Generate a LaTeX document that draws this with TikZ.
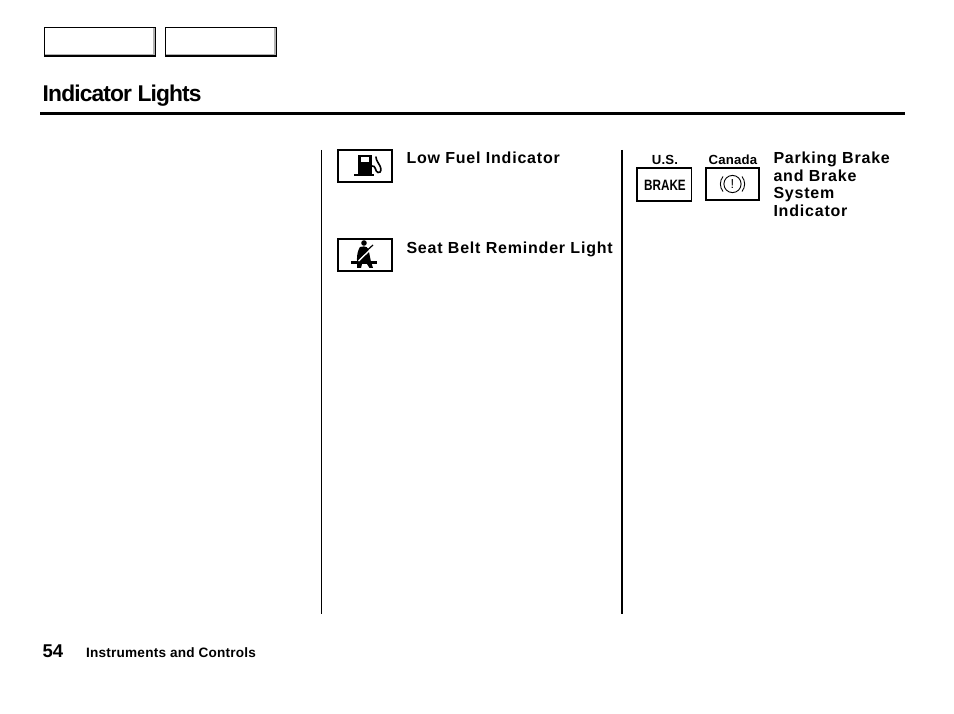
\documentclass[tikz,border=0pt]{standalone}
\usepackage{fontspec}
\setmainfont{Liberation Sans}
\newfontfamily\lblfont[LetterSpace=5]{Liberation Sans Bold}
\newfontfamily\titlefont[LetterSpace=-3.8]{Liberation Sans Bold}
\newfontfamily\smallfont[LetterSpace=1.5]{Liberation Sans Bold}
\tikzset{
  x=1pt,y=-1pt,
  tab/.style={draw=black,line width=1.4pt,fill=white},
  tabshade/.style={draw=none,fill=black!30},
  iconbox/.style={draw=black,line width=1.4pt,fill=white},
  rulev/.style={draw=black,line width=1.3pt},
  lbl/.style={inner sep=0pt,outer sep=0pt,anchor=base west,font=\lblfont\fontsize{16pt}{17.6pt}\selectfont,align=left,text=black},
  small/.style={inner sep=0pt,outer sep=0pt,anchor=base,font=\smallfont\fontsize{13.2pt}{14pt}\selectfont,text=black},
}
\begin{document}
\begin{tikzpicture}
\useasboundingbox (0,0) rectangle (954,714);
\fill[white] (0,0) rectangle (954,714);
% tabs
\draw[tab] (44.5,27.5) rectangle (155.5,56);
\draw[tab] (165.5,27.5) rectangle (276.5,56);
\fill[tabshade] (153.3,28.5) rectangle (154.8,55.2);
\fill[tabshade] (45.2,53.8) rectangle (154.8,55.2);
\fill[tabshade] (274.3,28.5) rectangle (275.8,55.2);
\fill[tabshade] (166.2,53.8) rectangle (275.8,55.2);
% title
\node[inner sep=0pt,anchor=base west,font=\titlefont\fontsize{22.8pt}{24pt}\selectfont] (title) at (42.5,101.5) {Indicator Lights};
\coordinate (rl) at (40,113.5); \coordinate (rr) at (905,113.5);
\draw[black,line width=2.6pt] (rl) -- (rr);
% column rules
\coordinate (a1) at (321.5,150); \coordinate (a2) at (321.5,614);
\coordinate (b1) at (622,150); \coordinate (b2) at (622,614);
\draw[rulev] (a1) -- (a2);
\draw[rulev] (b1) -- (b2);
% fuel icon
\draw[iconbox] (338,150) rectangle (392,182);
\fill[black] (358,155) rectangle (372,174);
\fill[black] (354,174) rectangle (374,176.5);
\fill[white] (361,157.5) rectangle (368.5,162.5);
\draw[black,line width=1.6pt,line cap=round] (372,166) .. controls (376,165) and (375,172) .. (378,172.5) .. controls (382,173) and (381,168) .. (380,166) .. controls (379,163) and (376,161) .. (376,157);
\node[lbl] (l1) at (406.5,163.8) {Low Fuel Indicator};
% seat belt icon
\draw[iconbox] (338,239) rectangle (392,271);
\fill[black] (364,243) circle (2.8);
\fill[black] (360,247) .. controls (366,245) and (369,248) .. (369,252) -- (371,262) -- (373,268) -- (369.5,268) -- (367,264) -- (362,264) -- (361,268) -- (357,268) -- (357,259) .. controls (357,254) and (358,250) .. (360,247) -- cycle;
\fill[black] (351,261.5) -- (377,261.5) -- (377,264) -- (351,264) -- cycle;
\draw[white,line width=1.4pt] (358.5,261) -- (372,248);
\draw[black,line width=1.2pt] (357,259.5) -- (373,245);
\node[lbl] (l2) at (406.5,253.8) {Seat Belt Reminder Light};
% brake
\node[small] (us) at (665,164.5) {U.S.};
\node[small] (ca) at (733,164.5) {Canada};
\draw[iconbox] (637,168) rectangle (691.5,201);
\node[inner sep=0pt,font=\bfseries\fontsize{15pt}{15pt}\selectfont,xscale=0.78] (bk) at (665,185) {BRAKE};
\draw[iconbox] (706,168) rectangle (759,200);
\node[inner sep=0pt,font=\fontsize{13pt}{13pt}\selectfont] (ex) at (732.5,184) {!};
\draw[black,line width=0.9pt] (732.5,184) circle (8.6);
\draw[black,line width=0.9pt] (723,176.5) .. controls (719.5,181) and (719.5,187) .. (723,191.5);
\draw[black,line width=0.9pt] (742,176.5) .. controls (745.5,181) and (745.5,187) .. (742,191.5);
\node[lbl,anchor=north west] (l3) at (773.5,152) {Parking Brake\\and Brake\\System\\Indicator};
% footer
\node[inner sep=0pt,anchor=base west,font=\bfseries\fontsize{18.5pt}{20pt}\selectfont] (pg) at (42.5,657) {54};
\node[inner sep=0pt,anchor=base west,font=\smallfont\fontsize{13.6pt}{14pt}\selectfont] (ft) at (86,657) {Instruments and Controls};
\end{tikzpicture}
\end{document}
